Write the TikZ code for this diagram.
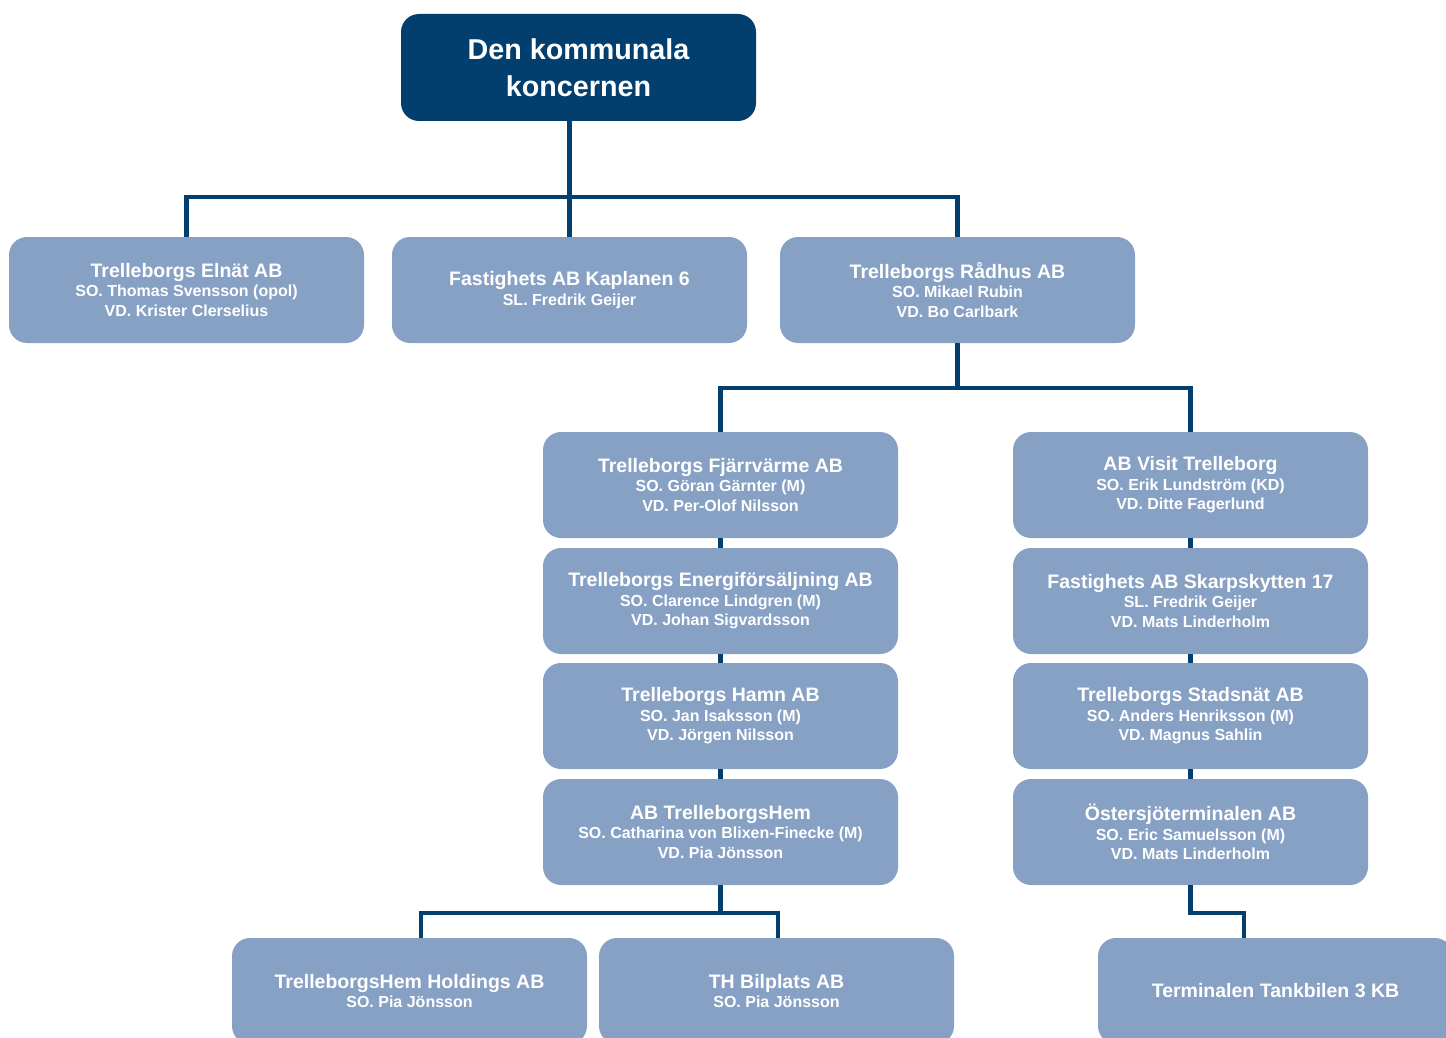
\documentclass[tikz,border=0pt]{standalone}
\usepackage{fontspec}
\setmainfont{Liberation Sans}
\definecolor{navy}{HTML}{023F6E}
\definecolor{boxblue}{HTML}{87A1C5}
\tikzset{
    orgbox/.style={rectangle, rounded corners=18pt, fill=boxblue, text=white,
        minimum width=355pt, minimum height=106pt, inner sep=0pt, align=center,
        font=\bfseries\fontsize{16}{19.5}\selectfont},
    topbox/.style={orgbox, fill=navy, minimum height=107pt,
        font=\bfseries\fontsize{28.7}{37}\selectfont},
    link/.style={navy, line width=4.5pt}
}
\newcommand{\firm}[1]{{\fontsize{19.5}{20}\selectfont #1}}

\begin{document}
\begin{tikzpicture}[x=1pt,y=-1pt]
    \useasboundingbox (0,0) rectangle (1446,1038);

    % Top of the group
    \node[topbox] (root) at (578.5,67.5) {Den kommunala\\koncernen};

    % First level
    \node[orgbox] (elnat) at (186.5,290) {\firm{Trelleborgs Elnät AB}\\SO. Thomas Svensson (opol)\\VD. Krister Clerselius};
    \node[orgbox] (kaplanen) at (569.5,290) {\firm{Fastighets AB Kaplanen 6}\\SL. Fredrik Geijer};
    \node[orgbox] (radhus) at (957.5,290) {\firm{Trelleborgs Rådhus AB}\\SO. Mikael Rubin\\VD. Bo Carlbark};

    % Left column under Rådhus
    \node[orgbox] (fjarr) at (720.5,485) {\firm{Trelleborgs Fjärrvärme AB}\\SO. Göran Gärnter (M)\\VD. Per-Olof Nilsson};
    \node[orgbox] (energi) at (720.5,601) {\firm{Trelleborgs Energiförsäljning AB}\\SO. Clarence Lindgren (M)\\VD. Johan Sigvardsson};
    \node[orgbox] (hamn) at (720.5,716) {\firm{Trelleborgs Hamn AB}\\SO. Jan Isaksson (M)\\VD. Jörgen Nilsson};
    \node[orgbox] (hem) at (720.5,832) {\firm{AB TrelleborgsHem}\\SO. Catharina von Blixen-Finecke (M)\\VD. Pia Jönsson};

    % Right column under Rådhus
    \node[orgbox] (visit) at (1190.5,485) {\firm{AB Visit Trelleborg}\\SO. Erik Lundström (KD)\\VD. Ditte Fagerlund};
    \node[orgbox] (skarp) at (1190.5,601) {\firm{Fastighets AB Skarpskytten 17}\\SL. Fredrik Geijer\\VD. Mats Linderholm};
    \node[orgbox] (stads) at (1190.5,716) {\firm{Trelleborgs Stadsnät AB}\\SO. Anders Henriksson (M)\\VD. Magnus Sahlin};
    \node[orgbox] (osters) at (1190.5,832) {\firm{Östersjöterminalen AB}\\SO. Eric Samuelsson (M)\\VD. Mats Linderholm};

    % Bottom row
    \node[orgbox] (holdings) at (409.5,991) {\firm{TrelleborgsHem Holdings AB}\\SO. Pia Jönsson};
    \node[orgbox] (bilplats) at (776.5,991) {\firm{TH Bilplats AB}\\SO. Pia Jönsson};
    \node[orgbox] (tank) at (1275.5,991) {\firm{Terminalen Tankbilen 3 KB}};

    % Bars of the tree
    \coordinate (bartop) at (0,197);
    \coordinate (barmid) at (0,388);
    \coordinate (barlow) at (0,913);
    \coordinate (holdtop) at ([xshift=11.5pt]holdings.north);
    \coordinate (biltop) at ([xshift=1.5pt]bilplats.north);
    \coordinate (tanktop) at ([xshift=-31.5pt]tank.north);

    % Connectors
    \draw[link] (root.south -| kaplanen.north) -- (kaplanen.north);
    \draw[link] (elnat.north) |- (bartop -| radhus.north) -- (radhus.north);
    \draw[link] (radhus.south) -- (radhus.south |- barmid);
    \draw[link] (fjarr.north) |- (barmid -| visit.north) -- (visit.north);
    \foreach \a/\b in {fjarr/energi, energi/hamn, hamn/hem, visit/skarp, skarp/stads, stads/osters} {
        \draw[link] (\a.south) -- (\b.north);
    }
    \draw[link] (hem.south) -- (hem.south |- barlow);
    \draw[link] (holdtop) |- (barlow -| biltop) -- (biltop);
    \draw[link] (osters.south) |- (barlow -| tanktop) -- (tanktop);
\end{tikzpicture}
\end{document}
